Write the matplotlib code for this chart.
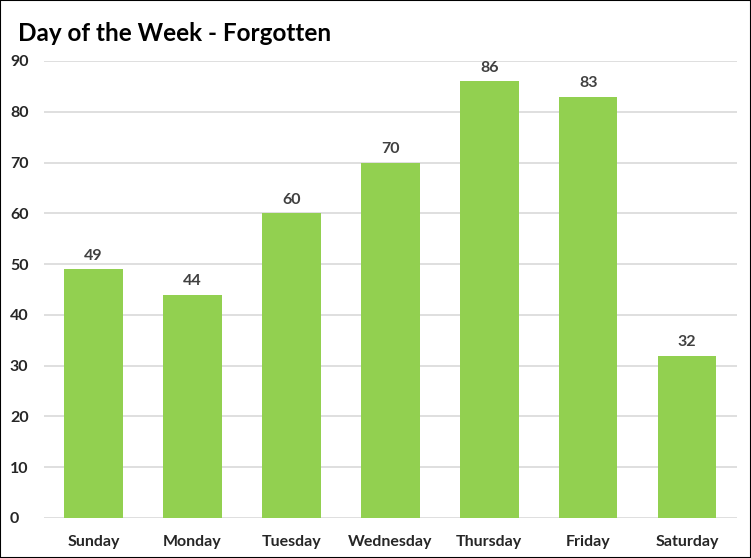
import matplotlib.pyplot as plt
from matplotlib.patches import Rectangle

days = ['Sunday', 'Monday', 'Tuesday', 'Wednesday', 'Thursday', 'Friday', 'Saturday']
forgotten = [49, 44, 60, 70, 86, 83, 32]
yticks = [0, 10, 20, 30, 40, 50, 60, 70, 80, 90]

plt.rcParams['font.family'] = ['Lato', 'DejaVu Sans']

fig = plt.figure(figsize=(7.51, 5.58), dpi=100)
ax = fig.add_axes([0.0586, 0.0717, 0.9224, 0.819])

x = range(len(days))
bars = ax.bar(x, forgotten, width=0.59, color='#92D050', zorder=3)
for b, v in zip(bars, forgotten):
    ax.text(b.get_x() + b.get_width() / 2, v + 1.2, str(v), ha='center', va='bottom',
            fontsize=11.5, fontweight='bold', color='#404040')

ax.set_xlim(-0.5, len(days) - 0.5)
ax.set_ylim(0, 90)
ax.set_yticks(yticks)
ax.set_xticks(list(x))
ax.set_xticklabels(days)
ax.yaxis.grid(True, color='#d9d9d9', linewidth=1.2, zorder=0)
ax.tick_params(length=0, labelsize=11.5, labelcolor='#262626')
ax.tick_params(axis='x', pad=12)
ax.tick_params(axis='y', pad=24.5)
for lbl in ax.get_xticklabels() + ax.get_yticklabels():
    lbl.set_fontweight('bold')
for lbl in ax.get_yticklabels():
    lbl.set_horizontalalignment('left')
for s in ax.spines.values():
    s.set_visible(False)

fig.text(0.024, 0.94, 'Day of the Week - Forgotten', fontsize=17.5, fontweight='bold',
         color='black', va='center', ha='left')

fig.patches.append(Rectangle((0, 0), 1, 1, transform=fig.transFigure, fill=False,
                             edgecolor='black', linewidth=1.5))

fig.savefig('out.png', dpi=100)
